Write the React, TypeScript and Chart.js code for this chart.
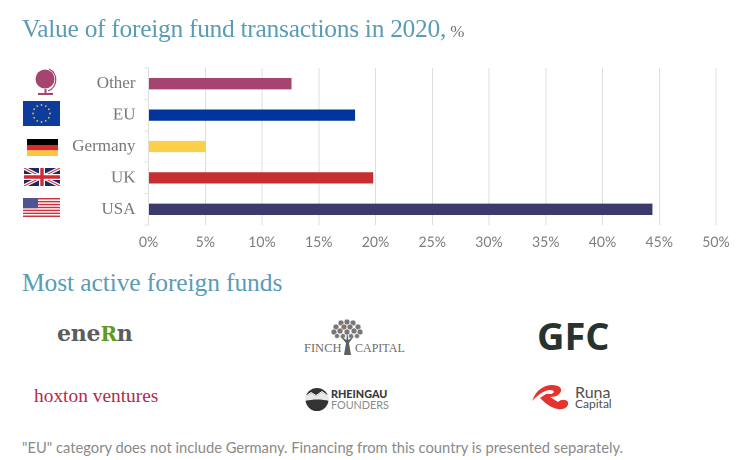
import { useEffect, useRef } from 'react';
import type { CSSProperties } from 'react';
import { Chart, registerables } from 'chart.js';

Chart.register(...registerables);

const CATEGORIES = ['Other', 'EU', 'Germany', 'UK', 'USA'];
const VALUES = [12.6, 18.2, 5.05, 19.8, 44.4];
const BAR_COLORS = ['#a4446f', '#00359b', '#fccf4a', '#c62e30', '#3c3a6c'];
const X_MAX = 50;
const X_STEP = 5;

const TEAL = '#5a9cb7';
const SERIF = '"Liberation Serif", serif';
const LATO = 'Lato, sans-serif';

const abs = (left: number, top: number, extra: CSSProperties = {}): CSSProperties => ({
  position: 'absolute',
  left,
  top,
  whiteSpace: 'nowrap',
  lineHeight: 1,
  ...extra
});

function Globe() {
  return (
    <svg style={abs(35, 68)} width="23" height="28" viewBox="0 0 23 28">
      <circle cx="10" cy="11" r="9.5" fill="#a4446f" />
      <path d="M14 1 A 12 12 0 0 1 13 23" fill="none" stroke="#a4446f" strokeWidth="1.2" />
      <rect x="9.5" y="21" width="2" height="4" fill="#a4446f" />
      <rect x="3" y="25" width="15" height="2" fill="#a4446f" />
    </svg>
  );
}

function EuFlag() {
  return (
    <svg style={abs(23, 101)} width="37" height="25" viewBox="0 0 37 25">
      <rect width="37" height="25" fill="#0b3c9e" />
      {Array.from({ length: 12 }, (_, i) => (
        <circle key={i} cx="18.5" cy="4" r="0.9" fill="#f4c020" transform={`rotate(${i * 30} 18.5 12.5)`} />
      ))}
    </svg>
  );
}

function GermanFlag() {
  return (
    <svg style={abs(27, 139)} width="31" height="17" viewBox="0 0 31 17">
      <rect width="31" height="6" fill="#000" />
      <rect y="6" width="31" height="5.5" fill="#dd2c26" />
      <rect y="11.5" width="31" height="5.5" fill="#f8c83a" />
    </svg>
  );
}

function UkFlag() {
  return (
    <svg style={abs(24, 168)} width="36" height="18" viewBox="0 0 36 18">
      <rect width="36" height="18" fill="#1b2a63" />
      <path d="M0 0 L36 18 M36 0 L0 18" stroke="#fff" strokeWidth="3.4" />
      <path d="M0 0 L36 18 M36 0 L0 18" stroke="#cf2a36" strokeWidth="1.1" />
      <path d="M18 0 V18 M0 9 H36" stroke="#fff" strokeWidth="6" />
      <path d="M18 0 V18 M0 9 H36" stroke="#cf2a36" strokeWidth="3.4" />
    </svg>
  );
}

function UsFlag() {
  const stripes = [0, 1, 2, 3, 4, 5, 6];
  return (
    <svg style={abs(23, 198)} width="37" height="19" viewBox="0 0 37 19">
      <rect width="37" height="19" fill="#fff" />
      {stripes.map((s) => (
        <rect key={s} y={s * 2.92} width="37" height="1.46" fill="#c8313d" />
      ))}
      <rect width="15" height="10.2" fill="#4d5590" />
    </svg>
  );
}

function FinchTree() {
  const leaves: [number, number, number][] = [
    [16, 3, 3], [10, 4, 3], [22, 4, 3], [5, 8, 3], [27, 8, 3], [13, 8, 3], [19, 8, 3],
    [3, 13, 3], [29, 13, 3], [9, 12, 3], [23, 12, 3], [16, 13, 3], [6, 17, 2.5], [26, 17, 2.5], [12, 17, 2.5], [20, 17, 2.5]
  ];
  return (
    <svg style={abs(331, 319)} width="33" height="37" viewBox="0 0 33 37">
      {leaves.map(([cx, cy, r], i) => (
        <circle key={i} cx={cx} cy={cy} r={r} fill="#777" stroke="#fff" strokeWidth="0.6" />
      ))}
      <path d="M13 36 L15 24 L9 17 L15.5 21 L16 13 L17.5 21 L23 17 L18 24 L20 36 Z" fill="#5f5f5f" />
      <circle cx="11" cy="10" r="1.3" fill="#ef9a3a" />
    </svg>
  );
}

function RheingauMark() {
  return (
    <svg style={abs(305, 388)} width="24" height="23" viewBox="0 0 24 23">
      <circle cx="12" cy="11.5" r="11.5" fill="#333" />
      <path d="M0 9 L6 5 L11 8 L17 4 L24 9 L24 13 C17 11 8 11 0 13 Z" fill="#e8e8e8" />
      <path d="M0 8.6 L6 4.5 L11 7.5 L17 3.5 L24 8.6" fill="none" stroke="#fff" strokeWidth="1" />
    </svg>
  );
}

function RunaMark() {
  return (
    <svg style={abs(531, 384)} width="38" height="27" viewBox="0 0 38 27">
      <path
        d="M1 17 C5 6 13 1 21 1 C29 1 32 5 29 9 C27 12 23 13 19 13 L27 18 C30 15 35 15 37 18 C38 23 33 26 27 25 C20 24 14 19 9 14 L15 10 L20 10 C24 9 24 6 19 6 C13 6 7 11 1 17 Z"
        fill="#e5332f"
      />
    </svg>
  );
}

export default function App() {
  const canvasRef = useRef<HTMLCanvasElement | null>(null);

  useEffect(() => {
    document.body.style.margin = '0';
    let chart: Chart | null = null;

    if (canvasRef.current) {
      chart = new Chart(canvasRef.current, {
        type: 'bar',
        data: {
          labels: CATEGORIES,
          datasets: [
            {
              data: VALUES,
              backgroundColor: BAR_COLORS,
              barPercentage: 0.36,
              categoryPercentage: 1
            }
          ]
        },
        options: {
          indexAxis: 'y',
          animation: false,
          responsive: false,
          devicePixelRatio: 2,
          layout: {
            padding: { top: 68, right: 24, left: 0, bottom: 0 }
          },
          plugins: {
            legend: { display: false },
            tooltip: { enabled: false }
          },
          scales: {
            x: {
              min: 0,
              max: X_MAX,
              afterFit: (scale) => {
                scale.height = 35;
              },
              grid: {
                color: '#dedede',
                lineWidth: 1,
                drawTicks: false
              },
              border: { display: false },
              ticks: {
                stepSize: X_STEP,
                padding: 9,
                maxRotation: 0,
                color: '#7c7c7c',
                font: { family: 'Lato', size: 14 },
                callback: (v) => v + '%'
              }
            },
            y: {
              afterFit: (scale) => {
                scale.width = 148.5;
              },
              grid: {
                color: '#dedede',
                drawOnChartArea: false,
                drawTicks: true,
                tickLength: 4
              },
              border: { color: '#dedede' },
              ticks: {
                padding: 9,
                color: '#767676',
                font: { family: 'Liberation Serif', size: 17 }
              }
            }
          }
        }
      });
    }

    return () => {
      if (chart) chart.destroy();
    };
  }, []);

  return (
    <div style={{ position: 'relative', width: 740, height: 460, background: '#fff', overflow: 'hidden' }}>
      <canvas ref={canvasRef} width={740} height={260} style={{ position: 'absolute', left: 0, top: 0, width: 740, height: 260 }} />

      <div style={abs(22, 16, { fontFamily: SERIF, fontSize: 25.5, color: TEAL, letterSpacing: -0.3 })}>
        Value of foreign fund transactions in 2020,
        <span style={{ fontSize: 17, color: '#707070', letterSpacing: 0 }}> %</span>
      </div>
      <div style={abs(22, 270, { fontFamily: SERIF, fontSize: 25.5, color: TEAL, letterSpacing: -0.1 })}>
        Most active foreign funds
      </div>

      <Globe />
      <EuFlag />
      <GermanFlag />
      <UkFlag />
      <UsFlag />

      <div style={abs(57, 322, { fontFamily: '"DejaVu Serif", serif', fontWeight: 700, fontSize: 22, color: '#5c5c5c', letterSpacing: -0.2 })}>
        ene<span style={{ color: '#5f9a22', fontSize: 20 }}>R</span>n
      </div>
      <div style={abs(304, 342, { fontFamily: SERIF, fontSize: 12.5, color: '#6d6d6d' })}>FINCH</div>
      <div style={abs(355, 342, { fontFamily: SERIF, fontSize: 12, color: '#6d6d6d' })}>CAPITAL</div>
      <FinchTree />
      <div style={abs(537, 316, { fontFamily: '"Open Sans", sans-serif', fontWeight: 700, fontSize: 38, color: '#26332e' })}>GFC</div>

      <div style={abs(34, 386, { fontFamily: SERIF, fontSize: 19.4, color: '#b62a4b' })}>hoxton ventures</div>
      <RheingauMark />
      <div style={abs(331, 389, { fontFamily: LATO, fontWeight: 900, fontSize: 10.8, color: '#3a3a3a' })}>RHEINGAU</div>
      <div style={abs(331, 400, { fontFamily: LATO, fontSize: 10.8, color: '#8a8a8a' })}>FOUNDERS</div>
      <RunaMark />
      <div style={abs(575, 384, { fontFamily: LATO, fontSize: 16, color: '#4f4f4f' })}>Runa</div>
      <div style={abs(575, 398, { fontFamily: LATO, fontSize: 12, color: '#4f4f4f' })}>Capital</div>

      <div style={abs(22, 440, { fontFamily: LATO, fontSize: 14.72, color: '#8a8a8a' })}>
        "EU" category does not include Germany. Financing from this country is presented separately.
      </div>
    </div>
  );
}
